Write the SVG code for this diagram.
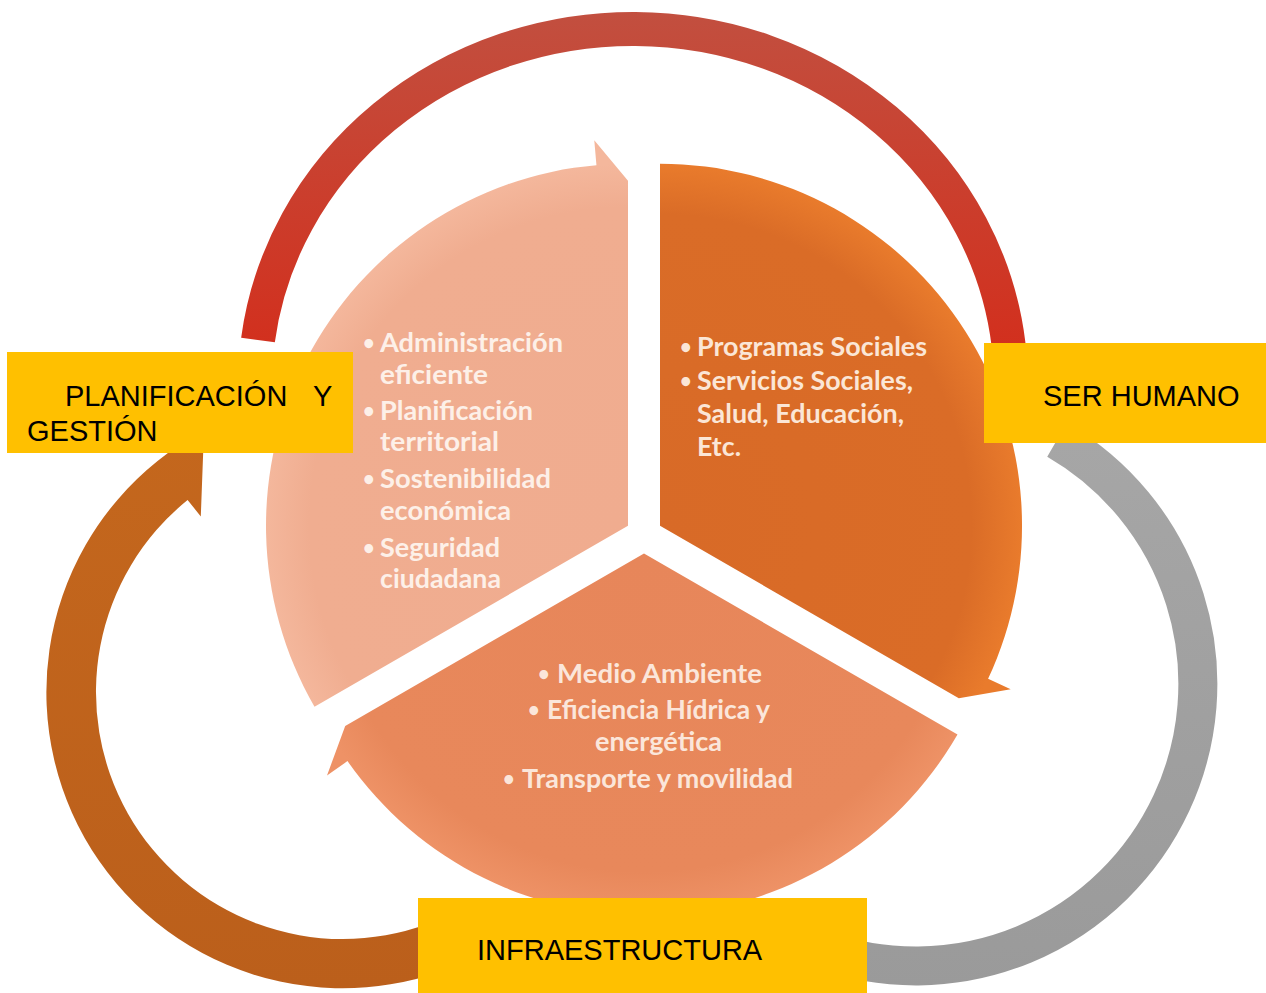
<svg xmlns="http://www.w3.org/2000/svg" width="1266" height="993" viewBox="0 0 1266 993">
  <defs>
    <linearGradient id="gRed" gradientUnits="userSpaceOnUse" x1="0" y1="12" x2="0" y2="345">
      <stop offset="0" stop-color="#c24f3f"/>
      <stop offset="1" stop-color="#d2301e"/>
    </linearGradient>
    <linearGradient id="gGray" gradientUnits="userSpaceOnUse" x1="0" y1="440" x2="0" y2="990">
      <stop offset="0" stop-color="#a6a6a6"/>
      <stop offset="1" stop-color="#9a9a9a"/>
    </linearGradient>
    <linearGradient id="gBrown" gradientUnits="userSpaceOnUse" x1="0" y1="430" x2="0" y2="990">
      <stop offset="0" stop-color="#c4671d"/>
      <stop offset="1" stop-color="#bb5f1b"/>
    </linearGradient>
    <radialGradient id="gSegR" gradientUnits="userSpaceOnUse" cx="660" cy="525.75" r="362">
      <stop offset="0" stop-color="#d86a27"/>
      <stop offset="0.86" stop-color="#da6c27"/>
      <stop offset="1" stop-color="#e97b2c"/>
    </radialGradient>
    <radialGradient id="gSegL" gradientUnits="userSpaceOnUse" cx="628" cy="525.75" r="362">
      <stop offset="0" stop-color="#f0ac8f"/>
      <stop offset="0.88" stop-color="#f0ad90"/>
      <stop offset="1" stop-color="#f4b79c"/>
    </radialGradient>
    <radialGradient id="gSegB" gradientUnits="userSpaceOnUse" cx="644" cy="553.5" r="362">
      <stop offset="0" stop-color="#e7865a"/>
      <stop offset="0.88" stop-color="#e8885b"/>
      <stop offset="1" stop-color="#ee9266"/>
    </radialGradient>
  </defs>
  <style>
    .ring { fill: none; stroke-linecap: butt; }
    .seg-text { font-family: Lato, "Open Sans", "DejaVu Sans", sans-serif; font-weight: 700; font-size: 26px; }
    .bullet { font-family: Lato, "Open Sans", "DejaVu Sans", sans-serif; font-weight: 700; font-size: 20px; }
    .lbl-box { fill: #ffc000; }
    .lbl { font-family: "Liberation Sans", Arial, sans-serif; font-size: 29px; fill: #000000; }
  </style>

  <rect x="0" y="0" width="1266" height="993" fill="#ffffff"/>

  <g id="connectors">
    <path id="arc-top" class="ring" d="M 258 340 A 378 356 0 0 1 1008.6 345" stroke="url(#gRed)" stroke-width="34"/>
    <path id="arc-right" class="ring" d="M 1057 439.8 A 282 282 0 0 1 819.6 949" stroke="url(#gGray)" stroke-width="39"/>
    <path id="arc-left" d="M 444.2 970.2 A 296 296 0 0 1 204 430.6 L 200.8 516.4 L 187.6 500 A 247 247 0 0 0 427.5 924.1 Z" fill="url(#gBrown)"/>
  </g>

  <g id="seg-planificacion">
    <path d="M 628 525.75 L 314.5 706.75 A 362 362 0 0 1 596.45 165.13 L 594.27 140.25 L 628 180.75 Z" fill="url(#gSegL)"/>
    <g fill="#fdf0e8">
      <text class="bullet" x="363" y="350">•</text>
      <text class="seg-text" x="380" y="352" textLength="183" lengthAdjust="spacingAndGlyphs">Administración</text>
      <text class="seg-text" x="380" y="384" textLength="108" lengthAdjust="spacingAndGlyphs">eficiente</text>
      <text class="bullet" x="363" y="418">•</text>
      <text class="seg-text" x="380" y="420" textLength="153" lengthAdjust="spacingAndGlyphs">Planificación</text>
      <text class="seg-text" x="380" y="451" textLength="119" lengthAdjust="spacingAndGlyphs">territorial</text>
      <text class="bullet" x="363" y="486">•</text>
      <text class="seg-text" x="380" y="488" textLength="171" lengthAdjust="spacingAndGlyphs">Sostenibilidad</text>
      <text class="seg-text" x="380" y="520" textLength="131" lengthAdjust="spacingAndGlyphs">económica</text>
      <text class="bullet" x="363" y="555">•</text>
      <text class="seg-text" x="380" y="557" textLength="120" lengthAdjust="spacingAndGlyphs">Seguridad</text>
      <text class="seg-text" x="380" y="588" textLength="121" lengthAdjust="spacingAndGlyphs">ciudadana</text>
    </g>
  </g>

  <g id="seg-ser-humano">
    <path d="M 660 525.75 L 660 163.75 A 362 362 0 0 1 988.1 678.75 L 1010.7 689.3 L 958.8 698.25 Z" fill="url(#gSegR)"/>
    <g fill="#fbe6d6">
      <text class="bullet" x="680" y="354">•</text>
      <text class="seg-text" x="697" y="356" textLength="230" lengthAdjust="spacingAndGlyphs">Programas Sociales</text>
      <text class="bullet" x="680" y="388">•</text>
      <text class="seg-text" x="697" y="390" textLength="216" lengthAdjust="spacingAndGlyphs">Servicios Sociales,</text>
      <text class="seg-text" x="697" y="423" textLength="207" lengthAdjust="spacingAndGlyphs">Salud, Educación,</text>
      <text class="seg-text" x="697" y="456" textLength="44" lengthAdjust="spacingAndGlyphs">Etc.</text>
    </g>
  </g>

  <g id="seg-infraestructura">
    <path d="M 644 553.5 L 957.5 734.5 A 362 362 0 0 1 347.5 761.1 L 327 775.5 L 345.2 726 Z" fill="url(#gSegB)"/>
    <g fill="#fbe6da">
      <text class="bullet" x="538" y="681">•</text>
      <text class="seg-text" x="557" y="683" textLength="205" lengthAdjust="spacingAndGlyphs">Medio Ambiente</text>
      <text class="bullet" x="528" y="717">•</text>
      <text class="seg-text" x="547" y="719" textLength="223" lengthAdjust="spacingAndGlyphs">Eficiencia Hídrica y</text>
      <text class="seg-text" x="595" y="751" textLength="127" lengthAdjust="spacingAndGlyphs">energética</text>
      <text class="bullet" x="503" y="786">•</text>
      <text class="seg-text" x="522" y="788" textLength="271" lengthAdjust="spacingAndGlyphs">Transporte y movilidad</text>
    </g>
  </g>

  <g id="label-planificacion">
    <rect class="lbl-box" x="7" y="352" width="346" height="101"/>
    <text class="lbl"><tspan x="65" y="406">PLANIFICACIÓN</tspan><tspan x="313" y="406">Y</tspan><tspan x="27" y="441">GESTIÓN</tspan></text>
  </g>

  <g id="label-ser-humano">
    <rect class="lbl-box" x="984" y="343" width="282" height="100"/>
    <text class="lbl" x="1043" y="406">SER HUMANO</text>
  </g>

  <g id="label-infraestructura">
    <rect class="lbl-box" x="418" y="898" width="449" height="95"/>
    <text class="lbl" x="477" y="960">INFRAESTRUCTURA</text>
  </g>
</svg>
